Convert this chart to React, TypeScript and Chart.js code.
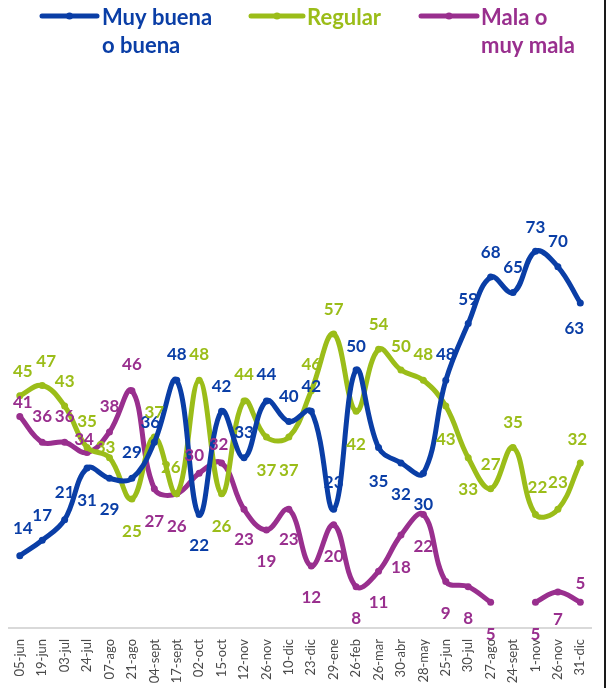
import React, { useEffect, useRef } from "react";
import { Chart, registerables } from "chart.js";

Chart.register(...registerables);

const categories = [
  "05-jun", "19-jun", "03-jul", "24-jul", "07-ago", "21-ago", "04-sept", "17-sept",
  "02-oct", "15-oct", "12-nov", "26-nov", "10-dic", "23-dic", "29-ene", "26-feb",
  "26-mar", "30-abr", "28-may", "25-jun", "30-jul", "27-ago", "24-sept", "1-nov",
  "26-nov", "31-dic",
];

const muyBuena = [14, 17, 21, 31, 29, 29, 36, 48, 22, 42, 33, 44, 40, 42, 23, 50, 35, 32, 30, 48, 59, 68, 65, 73, 70, 63];
const regular = [45, 47, 43, 35, 33, 25, 37, 26, 48, 26, 44, 37, 37, 46, 57, 42, 54, 50, 48, 43, 33, 27, 35, 22, 23, 32];
const mala = [41, 36, 36, 34, 38, 46, 27, 26, 30, 32, 23, 19, 23, 12, 20, 8, 11, 18, 22, 9, 8, 5, null, 5, 7, 5];

const seriesNames = [["Muy buena", "o buena"], ["Regular"], ["Mala o", "muy mala"]];

const BLUE = "#0A3EA6";
const GREEN = "#9BBD19";
const PURPLE = "#992F8E";

// label placement relative to each point (pixels)
const blueOffsets = [
  [3, -27], [0, -25], [0, -27], [0, 32], [0, 31], [0, -26], [-4, -20], [0, -26], [0, 31], [0, -25],
  [0, -25], [0, -26], [0, -25], [0, -25], [0, -27], [0, -23], [0, 34], [0, 32], [0, 31], [0, -26],
  [0, -24], [0, -25], [0, -25], [0, -24], [0, -25], [-6, 26],
];
const greenOffsets = [
  [3, -24], [4, -24], [0, -25], [0, -26], [-4, -10], [0, 33], [0, -25], [-6, -26], [0, -26], [0, 33],
  [0, -26], [0, 33], [0, 33], [0, -26], [0, -24], [0, 33], [0, -25], [0, -23], [0, -26], [0, 33],
  [0, 32], [0, -24], [0, -25], [2, -27], [0, -27], [-3, -23],
];
const purpleOffsets = [
  [3, -14], [0, -26], [0, -26], [-3, -13], [0, -25], [0, -26], [0, 33], [0, 33], [-5, -18], [-3, -18],
  [0, 30], [0, 32], [0, 30], [0, 31], [0, 32], [0, 32], [0, 31], [0, 32], [0, 32], [0, 32],
  [0, 32], [0, 32], [0, 0], [0, 32], [0, 28], [0, -19],
];
const labelOffsets = [blueOffsets, greenOffsets, purpleOffsets];

const legendLayout = [
  { x1: 42, x2: 97, tx: 102 },
  { x1: 251, x2: 303, tx: 307 },
  { x1: 421, x2: 477, tx: 481 },
];

const pointLabelPlugin = {
  id: "pointLabels",
  afterDatasetsDraw(chart: any) {
    const ctx = chart.ctx;
    ctx.save();
    ctx.font = "bold 17px Lato";
    ctx.textAlign = "center";
    ctx.textBaseline = "middle";
    chart.data.datasets.forEach((ds: any, di: number) => {
      const meta = chart.getDatasetMeta(di);
      meta.data.forEach((pt: any, i: number) => {
        const v = ds.data[i];
        if (v === null || v === undefined) return;
        const [dx, dy] = labelOffsets[di][i];
        ctx.fillStyle = ds.borderColor;
        ctx.fillText(String(v), pt.x + dx, pt.y + dy);
      });
    });
    ctx.restore();
  },
};

const legendPlugin = {
  id: "customLegend",
  afterDraw(chart: any) {
    const ctx = chart.ctx;
    ctx.save();
    chart.data.datasets.forEach((ds: any, di: number) => {
      const L = legendLayout[di];
      const y = 16;
      ctx.strokeStyle = ds.borderColor;
      ctx.lineWidth = 5;
      ctx.lineCap = "round";
      ctx.beginPath();
      ctx.moveTo(L.x1, y);
      ctx.lineTo(L.x2, y);
      ctx.stroke();
      ctx.fillStyle = ds.borderColor;
      ctx.beginPath();
      ctx.arc((L.x1 + L.x2) / 2, y, 3.5, 0, Math.PI * 2);
      ctx.fill();
      ctx.font = "bold 22px Lato";
      ctx.textAlign = "left";
      ctx.textBaseline = "alphabetic";
      seriesNames[di].forEach((line, li) => {
        ctx.fillText(line, L.tx, 25 + li * 28);
      });
    });
    ctx.restore();
  },
};

export default function App() {
  const canvasRef = useRef<HTMLCanvasElement | null>(null);

  useEffect(() => {
    if (!canvasRef.current) return;
    const mk = (label: string, data: (number | null)[], color: string) => ({
      label,
      data,
      borderColor: color,
      backgroundColor: color,
      borderWidth: 5,
      pointRadius: 3.5,
      pointBorderWidth: 0,
      pointBackgroundColor: color,
      tension: 0.4,
      borderCapStyle: "round",
      borderJoinStyle: "round",
      spanGaps: false,
      fill: false,
    });
    const chart = new Chart(canvasRef.current, {
      type: "line",
      data: {
        labels: categories,
        datasets: [
          mk(seriesNames[0].join(" "), muyBuena, BLUE),
          mk(seriesNames[1].join(" "), regular, GREEN),
          mk(seriesNames[2].join(" "), mala, PURPLE),
        ] as any,
      },
      options: {
        animation: false,
        responsive: true,
        maintainAspectRatio: false,
        layout: { padding: { left: 8.6, right: 4.6, top: 112, bottom: 0 } },
        plugins: {
          legend: { display: false },
          tooltip: { enabled: false },
        },
        scales: {
          x: {
            offset: true,
            grid: { display: false, drawTicks: false },
            border: { display: true, color: "#d9d9d9", width: 2 },
            ticks: {
              autoSkip: false,
              maxRotation: 90,
              minRotation: 90,
              padding: 11,
              color: "#4a4a4a",
              font: { family: "Lato", size: 13 },
            },
            afterFit: (axis: any) => {
              axis.height = 60;
            },
          },
          y: {
            display: false,
            min: 0,
            max: 100,
          },
        },
      },
      plugins: [pointLabelPlugin, legendPlugin],
    });
    return () => chart.destroy();
  }, []);

  return (
    <div style={{ position: "absolute", left: 0, top: 0, width: 607, height: 688, background: "#fff" }}>
      <canvas ref={canvasRef} />
      <div style={{ position: "absolute", left: 604, top: 0, width: 2, height: 688, background: "#1a1a1a" }} />
    </div>
  );
}
